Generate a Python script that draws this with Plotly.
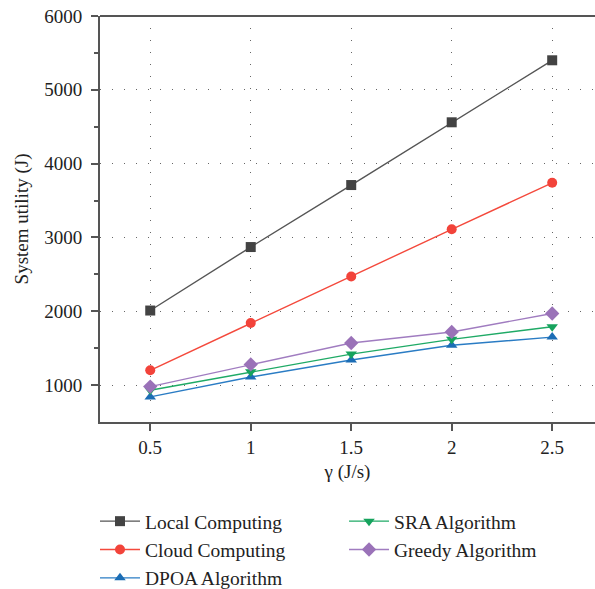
import plotly.graph_objects as go

gamma = [0.5, 1, 1.5, 2, 2.5]
local_computing = [2010, 2870, 3710, 4560, 5400]
cloud_computing = [1200, 1840, 2470, 3110, 3740]
dpoa_algorithm = [840, 1110, 1340, 1540, 1650]
sra_algorithm = [930, 1180, 1420, 1620, 1790]
greedy_algorithm = [980, 1280, 1570, 1720, 1970]

FONT = "Liberation Serif"

series = [
    ("Local Computing", local_computing, "#555555", "#434343", "square", "legend"),
    ("Cloud Computing", cloud_computing, "#f4493c", "#f2433a", "circle", "legend"),
    ("DPOA Algorithm", dpoa_algorithm, "#2a7cc4", "#1b6db5", "triangle-up", "legend"),
    ("SRA Algorithm", sra_algorithm, "#1faa66", "#16a35d", "triangle-down", "legend2"),
    ("Greedy Algorithm", greedy_algorithm, "#a07cc0", "#9a72b8", "diamond", "legend2"),
]

fig = go.Figure()
for name, ys, lc, mc, sym, lg in series:
    fig.add_trace(go.Scatter(
        x=gamma, y=ys, name=name, mode="lines+markers",
        line=dict(color=lc, width=1.4),
        marker=dict(symbol=sym, size=10 if sym != "diamond" else 11, color=mc),
        legend=lg,
    ))

legend_common = dict(
    font=dict(family=FONT, size=19.5, color="#222222"),
    bgcolor="rgba(0,0,0,0)", tracegroupgap=0, itemwidth=40,
    yanchor="top", xanchor="left",
)

# figure is a little taller than the window so the legend box fits without
# shrinking the plot area; the window shows the top 589 px
fig.update_layout(
    width=595, height=600,
    margin=dict(l=100, r=0, t=16, b=178),
    paper_bgcolor="white", plot_bgcolor="white",
    font=dict(family=FONT, size=19, color="#222222"),
    showlegend=True,
    legend=dict(x=-0.0101, y=-0.197, **legend_common),
    legend2=dict(x=0.493, y=-0.197, **legend_common),
    xaxis=dict(
        range=[0.25, 2.713], tickvals=gamma, ticktext=["0.5", "1", "1.5", "2", "2.5"],
        automargin=False,
        showline=True, linecolor="#555555", linewidth=2,
        ticks="outside", ticklen=7, tickwidth=1.5, tickcolor="#555555",
        showgrid=True, gridcolor="#666666", gridwidth=1, griddash="1px,11px",
        zeroline=False,
        title=dict(text="γ (J/s)", font=dict(family=FONT, size=19), standoff=8),
        tickfont=dict(family=FONT, size=19),
    ),
    yaxis=dict(
        range=[500, 6000], tickvals=[1000, 2000, 3000, 4000, 5000, 6000],
        automargin=False,
        showline=True, linecolor="#555555", linewidth=2,
        ticks="outside", ticklen=7, tickwidth=1.5, tickcolor="#555555",
        ticklabelstandoff=5,
        minor=dict(tickvals=[1500, 2500, 3500, 4500, 5500], ticks="outside",
                   ticklen=4, tickwidth=1.5, tickcolor="#555555", showgrid=False),
        showgrid=True, gridcolor="#666666", gridwidth=1, griddash="1px,11px",
        zeroline=False,
        title=dict(text="System utility (J)", font=dict(family=FONT, size=19), standoff=11),
        tickfont=dict(family=FONT, size=19),
    ),
    shapes=[dict(type="line", xref="paper", yref="paper", x0=0, x1=1, y0=1, y1=1,
                 line=dict(color="#555555", width=2))],
)

fig.write_html("out.html", config={"displayModeBar": False},
               post_script="document.body.style.margin='0';")
